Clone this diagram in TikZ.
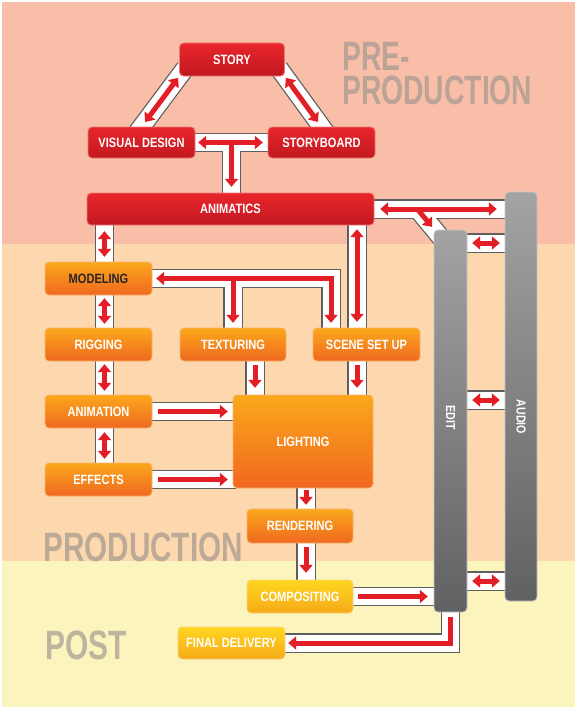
\documentclass[tikz,border=0pt]{standalone}
\usepackage{fontspec}
\setmainfont{Liberation Sans}
\usepackage{graphicx}
\usetikzlibrary{arrows.meta,calc}
\definecolor{bgpre}{HTML}{F9BEA7}
\definecolor{bgprod}{HTML}{FDD8AE}
\definecolor{bgpost}{HTML}{FBF4BD}
\definecolor{txpre}{HTML}{BBA497}
\definecolor{txprod}{HTML}{BCAA96}
\definecolor{txpost}{HTML}{BFB59E}
\definecolor{redT}{HTML}{E8262C}
\definecolor{redB}{HTML}{C21820}
\definecolor{redE}{HTML}{EC7A74}
\definecolor{orT}{HTML}{FBA81C}
\definecolor{orB}{HTML}{F06820}
\definecolor{orE}{HTML}{F8B36A}
\definecolor{yeT}{HTML}{FFD620}
\definecolor{yeB}{HTML}{F6AA18}
\definecolor{yeE}{HTML}{F9D27A}
\definecolor{grT}{HTML}{A3A3A3}
\definecolor{grB}{HTML}{606163}
\definecolor{grE}{HTML}{C4C4C4}
\definecolor{pipeE}{HTML}{5E5E5E}
\definecolor{arrR}{HTML}{E31E26}
\newcommand\cnd[1]{\scalebox{0.82}[1]{#1}}
\newcommand\bigcnd[2]{\scalebox{#1}[1]{#2}}
\begin{document}
\begin{tikzpicture}[x=1pt,y=-1pt,
  boxbase/.style={rounded corners=4pt, inner sep=0pt, line width=0.8pt, text=white,
    font=\fontsize{13.5}{15}\selectfont\bfseries},
  redbox/.style={boxbase, top color=redT, bottom color=redB, draw=redE},
  orbox/.style={boxbase, top color=orT, bottom color=orB, draw=orE},
  yelbox/.style={boxbase, top color=yeT, bottom color=yeB, draw=yeE},
  graybar/.style={boxbase, top color=grT, bottom color=grB, draw=grE},
  bartext/.style={inner sep=0pt, text=white, font=\fontsize{13}{14}\selectfont\bfseries},
  pipeout/.style={draw=pipeE, line width=19.5pt, line join=miter, shorten <=-3pt, shorten >=-3pt},
  pipein/.style={draw=white, line width=17pt, line join=miter, shorten <=-3pt, shorten >=-3pt},
  arr/.style={draw=arrR, line width=5pt},
  >={Triangle[width=13pt,length=8pt]},
  bigtxt/.style={anchor=base west, inner sep=0pt, text=#1, font=\fontsize{41}{41}\selectfont\bfseries},
]
\useasboundingbox (0,0) rectangle (577,709);
% background bands
\fill[white] (0,0) rectangle (577,709);
\fill[bgpre] (2,2) rectangle (575,244);
\fill[bgprod] (2,244) rectangle (575,561);
\fill[bgpost] (2,561) rectangle (575,707);
% phase labels
\node[bigtxt=txpre] (lpre) at (342,104) {\bigcnd{0.69}{\vbox{\baselineskip=34pt\lineskiplimit=-60pt\hbox{PRE-}\hbox{PRODUCTION}}}};
\node[bigtxt=txprod] (lprod) at (43,561) {\bigcnd{0.725}{PRODUCTION}};
\node[bigtxt=txpost] (lpost) at (45,659) {\bigcnd{0.73}{POST}};

% node centres
\path
  (232,59.5) coordinate (cstory)
  (141.5,142.5) coordinate (cvd)
  (321.5,142.5) coordinate (csb)
  (230.5,209) coordinate (canim)
  (521,396.5) coordinate (caudio)
  (450.5,421) coordinate (cedit)
  (98.5,278.5) coordinate (cmodel)
  (98.5,344.5) coordinate (crig)
  (233,344.5) coordinate (ctex)
  (366.5,344.5) coordinate (cscene)
  (98.5,411.5) coordinate (canima)
  (98.5,479.5) coordinate (cfx)
  (303,441.5) coordinate (clight)
  (300,526) coordinate (crend)
  (300,596.5) coordinate (ccomp)
  (231.5,643) coordinate (cfinal);

% geometry nodes (boxes are painted later, over the pipes)
\path
  node[minimum width=105pt, minimum height=33pt, inner sep=0pt] (story) at (cstory) {}
  node[minimum width=107pt, minimum height=31pt, inner sep=0pt] (vd) at (cvd) {}
  node[minimum width=107pt, minimum height=31pt, inner sep=0pt] (sb) at (csb) {}
  node[minimum width=287pt, minimum height=32pt, inner sep=0pt] (anim) at (canim) {}
  node[minimum width=32pt, minimum height=409pt, inner sep=0pt] (audio) at (caudio) {}
  node[minimum width=33pt, minimum height=382pt, inner sep=0pt] (edit) at (cedit) {}
  node[minimum width=107pt, minimum height=33pt, inner sep=0pt] (model) at (cmodel) {}
  node[minimum width=107pt, minimum height=33pt, inner sep=0pt] (rig) at (crig) {}
  node[minimum width=106pt, minimum height=33pt, inner sep=0pt] (tex) at (ctex) {}
  node[minimum width=107pt, minimum height=33pt, inner sep=0pt] (scene) at (cscene) {}
  node[minimum width=107pt, minimum height=33pt, inner sep=0pt] (anima) at (canima) {}
  node[minimum width=107pt, minimum height=33pt, inner sep=0pt] (fx) at (cfx) {}
  node[minimum width=140pt, minimum height=93pt, inner sep=0pt] (light) at (clight) {}
  node[minimum width=106pt, minimum height=34pt, inner sep=0pt] (rend) at (crend) {}
  node[minimum width=106pt, minimum height=33pt, inner sep=0pt] (comp) at (ccomp) {}
  node[minimum width=107pt, minimum height=32pt, inner sep=0pt] (final) at (cfinal) {};

% helper coordinates
\coordinate (sx) at (104.5,0);
\coordinate (scx) at (357,0);
\coordinate (tx) at (255,0);
\coordinate (lx) at (306,0);
\coordinate (mcorner) at (331,278.5);
\coordinate (e1) at (0,243);
\coordinate (e2) at (0,400);
\coordinate (e3) at (0,581);
\coordinate (tj) at ($(vd.east)!0.5!(sb.west)$);
\coordinate (brstart) at ($(anim.east)!0.33!(anim.east -| audio.west)$);
\coordinate (brstop) at ([xshift=9pt,yshift=-10pt]edit.north west);

% ---------- pipes ----------
\foreach \lay in {pipeout,pipein}{
  \draw[\lay, shorten <=-10pt, shorten >=-10pt] (story.south west) -- (vd.north);
  \draw[\lay, shorten <=-10pt, shorten >=-10pt] (story.south east) -- (sb.north);
  \draw[\lay] (vd.east) -- (sb.west);
  \draw[\lay, shorten <=0pt] (tj) -- (tj |- anim.north);
  \draw[\lay] (anim.east) -- (anim.east -| audio.west);
  \draw[\lay, shorten <=0pt] (brstart) -- (brstop);
  \draw[\lay] (edit.east |- e1) -- (audio.west |- e1);
  \draw[\lay] (edit.east |- e2) -- (audio.west |- e2);
  \draw[\lay] (edit.east |- e3) -- (audio.west |- e3);
  \draw[\lay] (anim.south -| sx) -- (model.north -| sx);
  \draw[\lay] (model.south -| sx) -- (rig.north -| sx);
  \draw[\lay] (rig.south -| sx) -- (anima.north -| sx);
  \draw[\lay] (anima.south -| sx) -- (fx.north -| sx);
  \draw[\lay] (anim.south -| scx) -- (scene.north -| scx);
  \draw[\lay] (model.east) -- (mcorner) -- (mcorner |- scene.north);
  \draw[\lay, shorten <=0pt] (tex.north |- model.east) -- (tex.north);
  \draw[\lay] (tex.south -| tx) -- (light.north -| tx);
  \draw[\lay] (scene.south -| scx) -- (light.north -| scx);
  \draw[\lay] (anima.east) -- (anima.east -| light.west);
  \draw[\lay] (fx.east) -- (fx.east -| light.west);
  \draw[\lay] (light.south -| lx) -- (rend.north -| lx);
  \draw[\lay] (rend.south -| lx) -- (comp.north -| lx);
  \draw[\lay] (comp.east) -- (comp.east -| edit.west);
  \draw[\lay] (edit.south) -- (edit.south |- final.east) -- (final.east);
}

% ---------- boxes ----------
\node[redbox, minimum width=105pt, minimum height=33pt] (bxstory) at (cstory) {\cnd{STORY}};
\node[redbox, minimum width=107pt, minimum height=31pt] (bxvd) at (cvd) {\cnd{VISUAL DESIGN}};
\node[redbox, minimum width=107pt, minimum height=31pt] (bxsb) at (csb) {\cnd{STORYBOARD}};
\node[redbox, minimum width=287pt, minimum height=32pt] (bxanim) at (canim) {\cnd{ANIMATICS}};
\node[graybar, minimum width=32pt, minimum height=409pt] (bxaudio) at (caudio) {};
\node[graybar, minimum width=33pt, minimum height=382pt] (bxedit) at (cedit) {};
\node[bartext, rotate=-90] (txaudio) at ([yshift=-20.5pt]audio.center) {\cnd{AUDIO}};
\node[bartext, rotate=-90] (txedit) at ([yshift=3pt]edit.center) {\cnd{EDIT}};
\node[orbox, minimum width=107pt, minimum height=33pt, text=black!85] (bxmodel) at (cmodel) {\cnd{MODELING}};
\node[orbox, minimum width=107pt, minimum height=33pt] (bxrig) at (crig) {\cnd{RIGGING}};
\node[orbox, minimum width=106pt, minimum height=33pt] (bxtex) at (ctex) {\cnd{TEXTURING}};
\node[orbox, minimum width=107pt, minimum height=33pt] (bxscene) at (cscene) {\cnd{SCENE SET UP}};
\node[orbox, minimum width=107pt, minimum height=33pt] (bxanima) at (canima) {\cnd{ANIMATION}};
\node[orbox, minimum width=107pt, minimum height=33pt] (bxfx) at (cfx) {\cnd{EFFECTS}};
\node[orbox, minimum width=140pt, minimum height=93pt] (bxlight) at (clight) {\cnd{LIGHTING}};
\node[orbox, minimum width=106pt, minimum height=34pt] (bxrend) at (crend) {\cnd{RENDERING}};
\node[yelbox, minimum width=106pt, minimum height=33pt] (bxcomp) at (ccomp) {\cnd{COMPOSITING}};
\node[yelbox, minimum width=107pt, minimum height=32pt] (bxfinal) at (cfinal) {\cnd{FINAL DELIVERY}};

% ---------- red arrows ----------
\draw[arr,<->,shorten <=2pt,shorten >=6pt] (story.south west) -- (vd.north);
\draw[arr,<->,shorten <=2pt,shorten >=6pt] (story.south east) -- (sb.north);
\draw[arr,<->,shorten <=3pt,shorten >=5pt] (vd.east) -- (sb.west);
\draw[arr,->,shorten >=6pt] (tj) -- (tj |- anim.north);
\draw[arr,<->,shorten <=6pt,shorten >=8pt] (anim.east) -- (anim.east -| audio.west);
\draw[arr,->] (brstart) -- ($(brstart)!0.58!(brstop)$);
\draw[arr,<->,shorten <=5pt,shorten >=5pt] (edit.east |- e1) -- (audio.west |- e1);
\draw[arr,<->,shorten <=5pt,shorten >=5pt] (edit.east |- e2) -- (audio.west |- e2);
\draw[arr,<->,shorten <=5pt,shorten >=5pt] (edit.east |- e3) -- (audio.west |- e3);
\draw[arr,<->,shorten <=6pt,shorten >=5pt] (anim.south -| sx) -- (model.north -| sx);
\draw[arr,<->,shorten <=3pt,shorten >=4pt] (model.south -| sx) -- (rig.north -| sx);
\draw[arr,<->,shorten <=3pt,shorten >=4pt] (rig.south -| sx) -- (anima.north -| sx);
\draw[arr,<->,shorten <=4pt,shorten >=4pt] (anima.south -| sx) -- (fx.north -| sx);
\draw[arr,<->,shorten <=4pt,shorten >=6pt] (anim.south -| scx) -- (scene.north -| scx);
\draw[arr,<->,shorten <=4pt,shorten >=5pt] (model.east) -- (mcorner) -- (mcorner |- scene.north);
\draw[arr,->,shorten >=5pt] (tex.north |- model.east) -- (tex.north);
\draw[arr,->,shorten <=4pt,shorten >=7pt] (tex.south -| tx) -- (light.north -| tx);
\draw[arr,->,shorten <=4pt,shorten >=7pt] (scene.south -| scx) -- (light.north -| scx);
\draw[arr,->,shorten <=6pt,shorten >=5pt] (anima.east) -- (anima.east -| light.west);
\draw[arr,->,shorten <=6pt,shorten >=5pt] (fx.east) -- (fx.east -| light.west);
\draw[arr,->,shorten <=2pt,shorten >=4pt] (light.south -| lx) -- (rend.north -| lx);
\draw[arr,->,shorten <=4pt,shorten >=7pt] (rend.south -| lx) -- (comp.north -| lx);
\draw[arr,->,shorten <=5pt,shorten >=6pt] (comp.east) -- (comp.east -| edit.west);
\draw[arr,->,shorten <=5pt,shorten >=3pt] (edit.south) -- (edit.south |- final.east) -- (final.east);
\end{tikzpicture}
\end{document}
